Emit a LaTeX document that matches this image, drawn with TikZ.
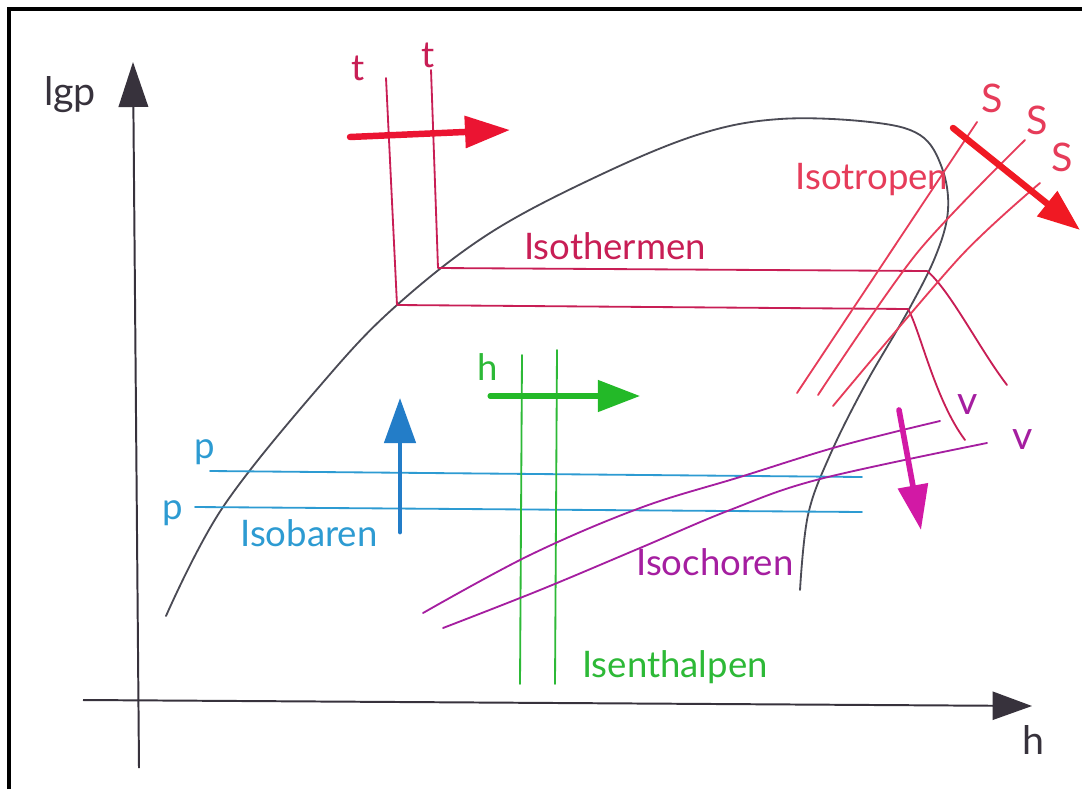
\documentclass[tikz,border=0pt]{standalone}
\usepackage{fontspec}
\setmainfont{Lato}
\usetikzlibrary{arrows.meta}
\definecolor{axisgray}{RGB}{55,50,60}
\definecolor{domegray}{RGB}{75,75,85}
\definecolor{thermc}{RGB}{200,30,85}
\definecolor{tarrow}{RGB}{235,20,50}
\definecolor{tropc}{RGB}{230,60,90}
\definecolor{sarrow}{RGB}{240,25,35}
\definecolor{barc}{RGB}{45,155,210}
\definecolor{barar}{RGB}{35,125,200}
\definecolor{thalc}{RGB}{45,185,55}
\definecolor{thalar}{RGB}{35,185,40}
\definecolor{chorc}{RGB}{165,30,160}
\definecolor{chorar}{RGB}{210,25,165}
\tikzset{
  lab/.style={inner sep=0pt, font=\fontsize{26}{30}\selectfont},
  biglab/.style={inner sep=0pt, font=\fontsize{28}{32}\selectfont},
  thin/.style={line width=1.3pt, line cap=round, line join=round},
  fat/.style={line width=4.6pt, line cap=round},
}
\begin{document}
\begin{tikzpicture}[x=0.025cm,y=-0.025cm]
\useasboundingbox (0,0) rectangle (1082,789);
\fill[white] (0,0) rectangle (1082,789);
% frame
\draw[line width=2.2pt,black] (9,789) -- (9,9) -- (1082,9);

% axes
\coordinate (yb) at (139,768);
\coordinate (yt) at (133,62);
\coordinate (xl) at (83,700);
\coordinate (xr) at (1032,706);
\draw[axisgray, line width=1.4pt, -{Triangle[length=32pt,width=21pt]}] (yb) -- (yt);
\draw[axisgray, line width=1.4pt, -{Triangle[length=28pt,width=20pt]}] (xl) -- (xr);
\node[biglab, text=axisgray] (lgp) at (70,95) {lgp};
\node[biglab, text=axisgray] (hax) at (1033,740) {h};

% saturation dome
\draw[domegray, thin] plot[smooth, tension=0.6] coordinates {
  (166,616) (223,507) (325,380) (397,305) (490,233) (600,175)
  (700,134) (780,119) (870,122) (920,135) (942,168) (948,210)
  (936,255) (908,311) (865,385) (830,455) (808,515) (800,590)};

% isotherms
\coordinate (t1top) at (386,78);
\coordinate (t1k) at (397,305);
\coordinate (t2top) at (431,70);
\coordinate (t2k) at (438,268);
\draw[thermc, thin] (t1top) -- (t1k) -- (908,309)
  .. controls (920,330) and (935,400) .. (965,440);
\draw[thermc, thin] (t2top) -- (t2k) -- (927,271)
  .. controls (950,290) and (980,350) .. (1007,385);
\node[lab, text=thermc] (tl1) at (358,68) {t};
\node[lab, text=thermc] (tl2) at (428,55) {t};
\node[lab, text=thermc] (isoth) at (615,246) {Isothermen};
\coordinate (ta) at (350,137);
\coordinate (tb) at (510,130);
\draw[tarrow, fat, -{Triangle[length=32pt,width=22pt]}] (ta) -- (tb);

% isentropes
\draw[tropc, thin] (977,122) -- (797,393);
\draw[tropc, thin] plot[smooth] coordinates {(1025,140) (917,253) (818,395)};
\draw[tropc, thin] plot[smooth] coordinates {(1040,183) (960,257) (833,406)};
\node[lab, text=tropc] (isotr) at (872,180) {Isotropen};
\node[biglab, text=tropc] (s1) at (992,98) {S};
\node[biglab, text=tropc] (s2) at (1037,120) {S};
\node[biglab, text=tropc] (s3) at (1062,157) {S};
\coordinate (sa) at (953,128);
\coordinate (sb) at (1080,230);
\draw[sarrow, fat, -{Triangle[length=30pt,width=22pt]}] (sa) -- (sb);

% isobars
\draw[barc, thin] (210,471) -- (862,477);
\draw[barc, thin] (195,507) -- (862,512);
\node[lab, text=barc] (p1) at (205,452) {p};
\node[lab, text=barc] (p2) at (173,513) {p};
\node[lab, text=barc] (isob) at (309,533) {Isobaren};
\coordinate (ba) at (400,532);
\coordinate (bb) at (400,398);
\draw[barar, line width=3.4pt, line cap=round, -{Triangle[length=32pt,width=22pt]}] (ba) -- (bb);

% isenthalps
\draw[thalc, thin] (522,355) -- (520,684);
\draw[thalc, thin] (557,350) -- (555,684);
\node[lab, text=thalc] (hl) at (488,367) {h};
\node[lab, text=thalc] (isenth) at (675,667) {Isenthalpen};
\coordinate (ha) at (490,396);
\coordinate (hb) at (640,396);
\draw[thalar, line width=3.6pt, line cap=round, -{Triangle[length=30pt,width=22pt]}] (ha) -- (hb);

% isochores
\draw[chorc, thin] plot[smooth, tension=0.6] coordinates {
  (423,613) (530,555) (640,508) (740,477) (840,446) (940,421)};
\draw[chorc, thin] plot[smooth, tension=0.6] coordinates {
  (443,628) (540,590) (640,548) (730,510) (820,479) (987,443)};
\node[biglab, text=chorc] (v1) at (968,405) {v};
\node[biglab, text=chorc] (v2) at (1023,440) {v};
\node[lab, text=chorc] (isoch) at (715,562) {Isochoren};
\coordinate (ca) at (899,410);
\coordinate (cb) at (921,530);
\draw[chorar, line width=4pt, line cap=round, -{Triangle[length=32pt,width=21pt]}] (ca) -- (cb);
\end{tikzpicture}
\end{document}
